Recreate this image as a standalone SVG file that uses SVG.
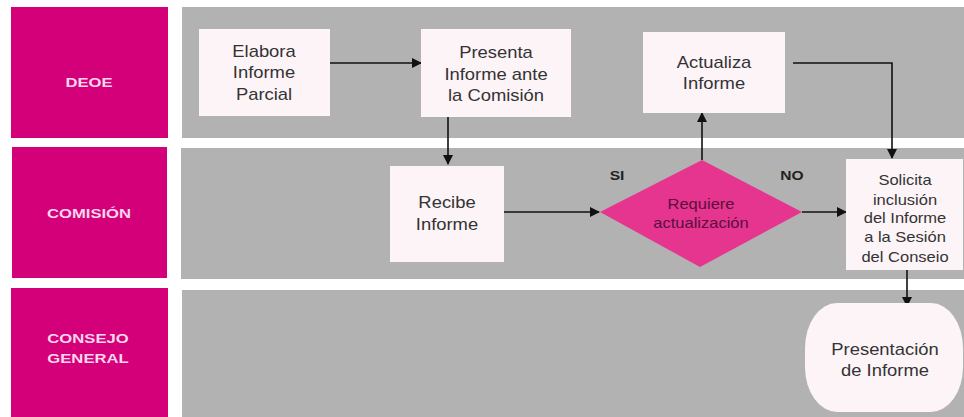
<svg xmlns="http://www.w3.org/2000/svg" width="964" height="417" viewBox="0 0 964 417">
<style>
.lane{fill:#b2b2b2}
.lbl{fill:#d4007a}
.lt{font-family:"Liberation Sans",Arial,sans-serif;font-size:13px;font-weight:bold;fill:#fad6ec;text-anchor:middle}
.box{fill:#fdf4f8}
.t{font-family:"Liberation Sans",Arial,sans-serif;font-size:16px;fill:#333;text-anchor:middle}
.ts{font-family:"Liberation Sans",Arial,sans-serif;font-size:14px;fill:#333;text-anchor:middle}
.dt{font-family:"Liberation Sans",Arial,sans-serif;font-size:14px;fill:#5a0f3e;text-anchor:middle}
.yn{font-family:"Liberation Sans",Arial,sans-serif;font-size:13px;font-weight:bold;fill:#222;text-anchor:middle}
.c{fill:none;stroke:#111;stroke-width:1.6}
</style>
<defs>
<marker id="ar" markerWidth="10" markerHeight="10" refX="9" refY="5" orient="auto" markerUnits="userSpaceOnUse">
<path d="M0,0 L10,5 L0,10 z" fill="#111"/>
</marker>
</defs>
<rect width="964" height="417" fill="#ffffff"/>
<g id="lanes">
<rect class="lbl" x="11" y="7" width="157" height="131"/>
<rect class="lane" x="182" y="7" width="782" height="131"/>
<rect class="lbl" x="12" y="147" width="155" height="131"/>
<rect class="lane" x="181" y="148" width="783" height="131"/>
<rect class="lbl" x="11" y="288" width="157" height="129"/>
<rect class="lane" x="182" y="290" width="782" height="127"/>
<text class="lt" transform="translate(89,87) scale(1.28,1)">DEOE</text>
<text class="lt" transform="translate(89,218) scale(1.28,1)">COMISIÓN</text>
<text class="lt" transform="translate(88,343) scale(1.28,1)">CONSEJO</text>
<text class="lt" transform="translate(88,363) scale(1.28,1)">GENERAL</text>
</g>
<g id="connectors">
<path class="c" d="M330,63 H421" marker-end="url(#ar)"/>
<path class="c" d="M448,117 V164" marker-end="url(#ar)"/>
<path class="c" d="M504,212 H599" marker-end="url(#ar)"/>
<path class="c" d="M702,160 V113" marker-end="url(#ar)"/>
<path class="c" d="M793,63 H892 V158" marker-end="url(#ar)"/>
<path class="c" d="M802,212 H846" marker-end="url(#ar)"/>
<path class="c" d="M907,270 V306" marker-end="url(#ar)"/>
<text class="yn" transform="translate(617,180) scale(1.2,1)">SI</text>
<text class="yn" transform="translate(792,180) scale(1.2,1)">NO</text>
</g>
<g id="elabora">
<rect class="box" x="199" y="29" width="131" height="87"/>
<text class="t" transform="translate(264,57) scale(1.15,1)">Elabora</text>
<text class="t" transform="translate(264,78) scale(1.15,1)">Informe</text>
<text class="t" transform="translate(264,100) scale(1.15,1)">Parcial</text>
</g>
<g id="presenta">
<rect class="box" x="421" y="29" width="150" height="88"/>
<text class="t" transform="translate(496,58) scale(1.15,1)">Presenta</text>
<text class="t" transform="translate(496,80) scale(1.15,1)">Informe ante</text>
<text class="t" transform="translate(496,101) scale(1.15,1)">la Comisión</text>
</g>
<g id="actualiza">
<rect class="box" x="643" y="32" width="142" height="81"/>
<text class="t" transform="translate(714,68) scale(1.15,1)">Actualiza</text>
<text class="t" transform="translate(714,89) scale(1.15,1)">Informe</text>
</g>
<g id="recibe">
<rect class="box" x="390" y="166" width="114" height="96"/>
<text class="t" transform="translate(447,208) scale(1.15,1)">Recibe</text>
<text class="t" transform="translate(447,230) scale(1.15,1)">Informe</text>
</g>
<g id="requiere">
<path d="M702,160 L802,212 L700,267 L600,212 z" fill="#e6358f"/>
<text class="dt" transform="translate(701,209) scale(1.18,1)">Requiere</text>
<text class="dt" transform="translate(701,228) scale(1.18,1)">actualización</text>
</g>
<g id="solicita">
<rect class="box" x="846" y="159" width="117" height="111"/>
<text class="ts" transform="translate(905,185) scale(1.18,1)">Solicita</text>
<text class="ts" transform="translate(905,205) scale(1.18,1)">inclusión</text>
<text class="ts" transform="translate(905,223) scale(1.18,1)">del Informe</text>
<text class="ts" transform="translate(905,242) scale(1.18,1)">a la Sesión</text>
<text class="ts" transform="translate(905,262) scale(1.18,1)">del Conseio</text>
</g>
<g id="presentacion">
<rect class="box" x="805" y="303" width="158" height="109" rx="32" ry="45"/>
<text class="t" transform="translate(885,355) scale(1.15,1)">Presentación</text>
<text class="t" transform="translate(885,376) scale(1.15,1)">de Informe</text>
</g>
</svg>
